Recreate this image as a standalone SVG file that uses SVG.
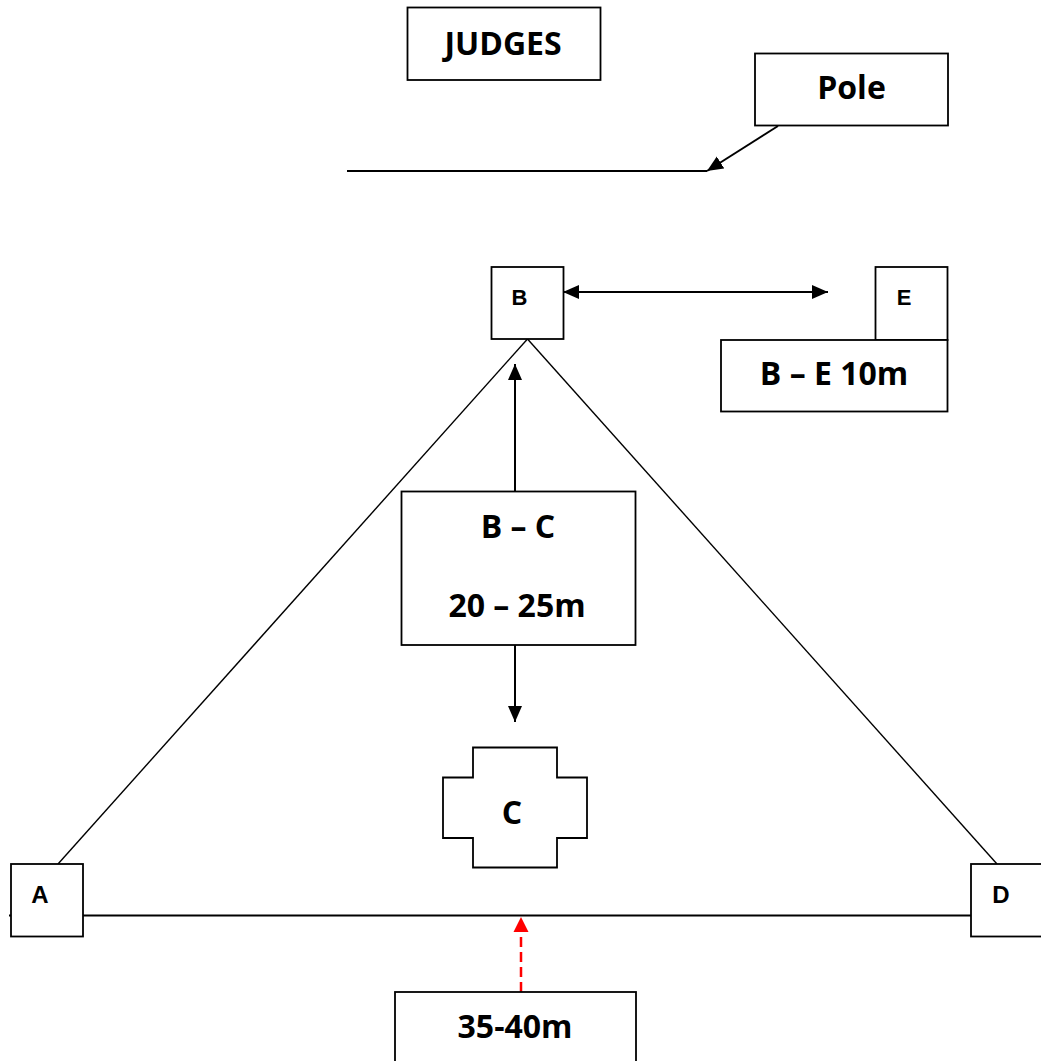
<svg xmlns="http://www.w3.org/2000/svg" width="1041" height="1061" viewBox="0 0 1041 1061">
  <style>
    .box { fill: #ffffff; stroke: #000000; stroke-width: 1.8; }
    .big { font-family: "Open Sans", "Liberation Sans", sans-serif; font-weight: bold; font-size: 32px; fill: #000000; text-anchor: middle; }
    .small { font-family: "Liberation Sans", Arial, sans-serif; font-weight: bold; fill: #000000; text-anchor: middle; }
    .edge { fill: none; stroke: #000000; stroke-width: 1.4; }
    .arrow { fill: none; stroke: #000000; stroke-width: 2; }
    .red { fill: none; stroke: #ff0000; stroke-width: 2.5; stroke-dasharray: 10 5; }
  </style>
  <defs>
    <marker id="ah" markerUnits="userSpaceOnUse" markerWidth="18" markerHeight="16" refX="16" refY="8" orient="auto-start-reverse" viewBox="0 0 18 16">
      <path d="M0,1 L16,8 L0,15 Z" fill="#000000"/>
    </marker>
    <marker id="ahr" markerUnits="userSpaceOnUse" markerWidth="16" markerHeight="16" refX="15" refY="8" orient="auto" viewBox="0 0 16 16">
      <path d="M0,0.5 L15,8 L0,15.5 Z" fill="#ff0000"/>
    </marker>
  </defs>

  <rect width="1041" height="1061" fill="#ffffff"/>

  <g id="connectors">
    <!-- pole line -->
    <line class="arrow" x1="347" y1="171" x2="707" y2="171"/>
    <line class="arrow" x1="778" y1="126" x2="707" y2="171" marker-end="url(#ah)"/>
    <!-- triangle -->
    <line class="edge" x1="527.5" y1="339" x2="58" y2="864"/>
    <line class="edge" x1="527.5" y1="339" x2="997" y2="864"/>
    <line class="arrow" x1="9" y1="915.5" x2="971" y2="915.5"/>
    <!-- B-E double arrow -->
    <line class="arrow" x1="563" y1="292" x2="828" y2="292" marker-start="url(#ah)" marker-end="url(#ah)"/>
    <!-- B-C arrows -->
    <line class="arrow" x1="515" y1="491" x2="515" y2="364" marker-end="url(#ah)"/>
    <line class="arrow" x1="515" y1="645" x2="515" y2="722" marker-end="url(#ah)"/>
    <!-- red dashed -->
    <line class="red" x1="521" y1="992" x2="521" y2="917" marker-end="url(#ahr)"/>
  </g>

  <g id="judges">
    <rect class="box" x="407.5" y="7.5" width="193" height="72.5"/>
    <text class="big" x="503" y="55">JUDGES</text>
  </g>

  <g id="pole">
    <rect class="box" x="755" y="53.5" width="193" height="72"/>
    <text class="big" x="851.5" y="99">Pole</text>
  </g>

  <g id="node-b">
    <rect class="box" x="491.5" y="267" width="72" height="72"/>
    <text class="small" x="519.5" y="305" font-size="22">B</text>
  </g>

  <g id="node-e">
    <rect class="box" x="875.5" y="267" width="72" height="73"/>
    <text class="small" x="904" y="305" font-size="22">E</text>
  </g>

  <g id="label-be">
    <rect class="box" x="721" y="340" width="226.5" height="71.5"/>
    <text class="big" x="834" y="385">B – E 10m</text>
  </g>

  <g id="label-bc">
    <rect class="box" x="401.5" y="491.5" width="234" height="153.5"/>
    <text class="big" x="518" y="538">B – C</text>
    <text class="big" x="517" y="617">20 – 25m</text>
  </g>

  <g id="node-c">
    <polygon class="box" points="473,747.5 557,747.5 557,777.5 587,777.5 587,838 557,838 557,867.5 473,867.5 473,838 443,838 443,777.5 473,777.5"/>
    <text class="big" x="512" y="824">C</text>
  </g>

  <g id="node-a">
    <rect class="box" x="11" y="864" width="72" height="72.5"/>
    <text class="small" x="40" y="903" font-size="24">A</text>
  </g>

  <g id="node-d">
    <rect class="box" x="971" y="864" width="76" height="72.5"/>
    <text class="small" x="1001" y="903" font-size="24">D</text>
  </g>

  <g id="label-distance">
    <rect class="box" x="395" y="992" width="241" height="80"/>
    <text class="big" x="515" y="1038">35-40m</text>
  </g>
</svg>
